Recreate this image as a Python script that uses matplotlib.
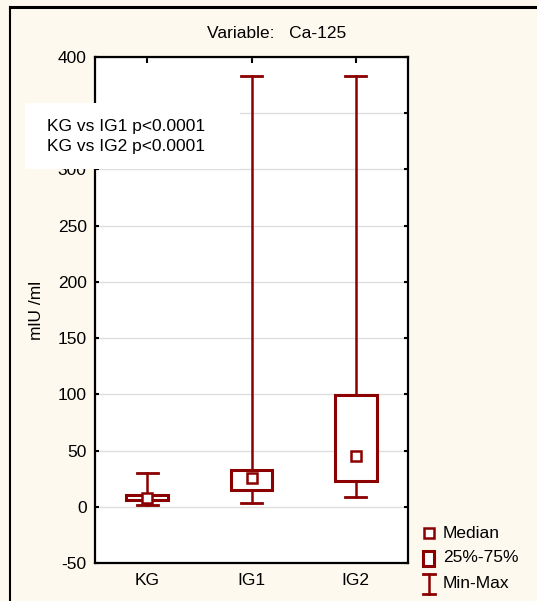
import matplotlib
matplotlib.use("Agg")
import matplotlib.pyplot as plt
from matplotlib.patches import Rectangle
from matplotlib.lines import Line2D

plt.rcParams['font.family'] = ['Liberation Sans', 'DejaVu Sans']
plt.rcParams['axes.unicode_minus'] = False

# group statistics (mIU/ml)
groups = ["KG", "IG1", "IG2"]
mins = [1.2, 3.0, 9.0]
q1s = [5.6, 14.5, 22.8]
medians = [8.0, 25.7, 45.5]
q3s = [10.7, 32.8, 99.5]
maxs = [30.0, 383.0, 383.0]
yticks = list(range(-50, 401, 50))

RED = "#8b0000"
BG = "#fdf9ee"
FS = 12.5

fig = plt.figure(figsize=(5.37, 6.01), dpi=100, facecolor=BG)
ax = fig.add_axes([95 / 537, 38 / 601, 313 / 537, 506 / 601])
ax.set_facecolor("white")

box_w = 0.4
cap_w = 0.2
for i in range(len(groups)):
    ax.plot([i, i], [mins[i], maxs[i]], color=RED, lw=1.8, zorder=2)
    ax.plot([i - cap_w / 2, i + cap_w / 2], [mins[i], mins[i]], color=RED, lw=2, zorder=2)
    ax.plot([i - cap_w / 2, i + cap_w / 2], [maxs[i], maxs[i]], color=RED, lw=2, zorder=2)
    ax.add_patch(Rectangle((i - box_w / 2, q1s[i]), box_w, q3s[i] - q1s[i],
                           facecolor="white", edgecolor=RED, lw=2.2, zorder=3))
    ax.plot(i, medians[i], marker="s", ms=6.5, mfc="white", mec=RED, mew=1.8, zorder=4)

ax.set_xlim(-0.5, 2.5)
ax.set_ylim(-50, 400)
ax.set_yticks(yticks)
# the 350 label sits under the note box
ax.set_yticklabels(["" if t == 350 else str(t) for t in yticks])
ax.set_xticks(range(len(groups)))
ax.set_xticklabels(groups)
ax.grid(axis="y", color="#dedede", lw=1)
ax.set_axisbelow(True)
ax.tick_params(axis="y", direction="in", length=3, width=1.5, right=True, labelsize=FS, pad=6)
ax.tick_params(axis="x", direction="in", length=4, width=1.5, top=True, bottom=False,
               labelsize=FS, pad=7)
for s in ax.spines.values():
    s.set_linewidth(1.6)
ax.set_ylabel("mlU /ml", fontsize=FS, labelpad=10)

fig.text(277 / 537, 1 - 34 / 601, "Variable:   Ca-125", ha="center", va="center", fontsize=FS)

# p-value note over the upper left corner
fig.patches.append(Rectangle((25 / 537, 1 - 169 / 601), 215 / 537, 66 / 601,
                             transform=fig.transFigure, facecolor="white",
                             edgecolor="none", zorder=5))
fig.text(47 / 537, 1 - 136.5 / 601, "KG vs IG1 p<0.0001\nKG vs IG2 p<0.0001",
         ha="left", va="center", fontsize=FS, linespacing=1.45, zorder=6)

# legend symbols
lx = 429 / 537
fig.add_artist(Line2D([lx], [1 - 533 / 601], marker="s", ms=6.5, mfc="white", mec=RED, mew=1.8,
                      ls="none", transform=fig.transFigure))
fig.patches.append(Rectangle((423 / 537, 1 - 566 / 601), 11 / 537, 15 / 601,
                             transform=fig.transFigure, facecolor="white", edgecolor=RED, lw=2.2))
fig.add_artist(Line2D([lx, lx], [1 - 574 / 601, 1 - 594 / 601], color=RED, lw=1.8,
                      transform=fig.transFigure))
for yy in (574, 594):
    fig.add_artist(Line2D([423 / 537, 435 / 537], [1 - yy / 601] * 2, color=RED, lw=2,
                          transform=fig.transFigure))
fig.text(443 / 537, 1 - 534 / 601, "Median", ha="left", va="center", fontsize=FS)
fig.text(443 / 537, 1 - 558 / 601, "25%-75%", ha="left", va="center", fontsize=FS)
fig.text(443 / 537, 1 - 583 / 601, "Min-Max", ha="left", va="center", fontsize=FS)

# frame lines along top and left edge
fig.add_artist(Line2D([10 / 537, 1], [1 - 7 / 601] * 2, color="black", lw=2.2,
                      transform=fig.transFigure))
fig.add_artist(Line2D([10 / 537] * 2, [0, 1 - 7 / 601], color="black", lw=1.5,
                      transform=fig.transFigure))

fig.savefig("out.png", dpi=100, facecolor=BG)
